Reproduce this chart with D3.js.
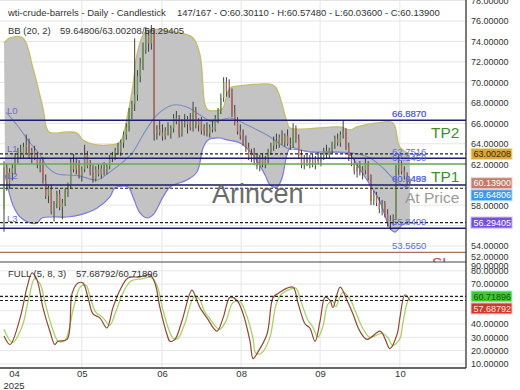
<!DOCTYPE html>
<html>
<head>
<meta charset="utf-8">
<script src="https://cdn.jsdelivr.net/npm/d3@7"></script>
<style>
  body { margin: 0; background: #fff; }
  svg { display: block; font-family: "Liberation Sans", Arial, sans-serif; }
</style>
</head>
<body>
<div id="chart"></div>
<script>
var svgWidth = 520;
var svgHeight = 390;
var plotRight = 466;
var mainBottom = 262;
var oscBottom = 368;

// daily candles, bar 0 .. 146 (147 of 167 slots)
var opens = [57.6,61.7,60.1,61.2,61.6,62.8,63.2,62.9,63.7,63.9,62.9,63.3,62.6,61.9,62.3,60.4,58.9,59.6,57.4,58.1,
  59.1,57.8,58.2,59.3,59.9,62.2,61.5,62.1,60.9,61.5,62.9,61.8,61.2,60.6,61.5,61.0,61.6,61.3,61.8,62.6,
  62.9,63.4,63.2,64.1,64.9,65.6,67.1,67.9,68.8,70.6,71.9,73.2,74.6,73.8,74.9,65.0,65.4,65.1,64.7,65.3,
  65.0,65.5,66.5,66.2,65.0,66.1,65.9,66.4,65.6,67.3,65.8,66.2,65.3,65.6,65.0,65.6,65.4,66.5,67.2,68.5,
  70.0,69.1,68.9,67.0,66.1,65.2,64.8,64.1,63.6,62.7,63.1,62.3,61.8,62.6,62.0,62.4,63.2,63.8,64.3,63.9,
  64.6,64.2,64.8,64.0,63.9,65.5,64.5,62.9,62.0,62.5,62.2,62.6,61.9,62.5,62.3,62.8,63.3,62.9,63.4,63.9,
  64.5,64.1,64.9,65.2,63.7,62.6,62.1,61.3,61.8,61.2,61.4,62.0,60.7,58.4,59.0,58.2,57.6,58.1,57.1,56.3,
  56.5,56.8,61.6,61.9,61.3,60.8,60.3011];
var highs = [62.3,62.0,61.6,62.0,63.1,63.6,63.9,64.1,64.9,64.5,63.6,63.8,63.2,62.6,62.7,61.0,59.9,60.0,58.4,59.4,
  59.5,58.6,59.6,60.2,62.6,63.0,62.5,62.4,61.8,63.9,63.3,62.4,61.9,61.8,62.0,61.9,62.2,62.0,62.9,63.2,
  63.6,64.1,64.4,65.2,66.0,67.5,68.2,74.3,71.2,72.4,73.9,75.4,75.1,75.6,75.3,65.8,66.3,65.9,65.6,66.1,
  65.8,66.9,67.2,66.8,66.4,66.9,66.7,67.0,68.1,67.6,66.5,66.6,65.9,66.1,65.9,66.2,66.8,67.5,68.9,70.5,
  70.5,70.3,69.4,67.8,66.6,65.9,65.4,64.8,64.1,63.5,63.6,63.0,62.9,63.1,62.8,63.5,64.1,64.7,65.0,64.9,
  65.3,65.0,65.4,64.6,66.0,65.8,64.9,63.4,62.9,63.1,62.9,63.0,62.8,63.2,63.0,63.6,63.9,63.6,64.2,64.8,
  65.0,65.2,66.3,65.5,64.1,63.1,62.6,62.1,62.3,61.8,62.6,62.3,61.0,59.4,59.3,58.8,58.5,58.4,57.6,57.0,
  57.1,61.9,62.9,62.3,61.8,61.2,60.5748];
var lows = [55.4,59.4,59.6,60.4,61.0,62.1,62.6,62.5,63.1,62.6,62.1,62.4,61.6,61.2,60.1,58.6,58.2,57.1,56.4,57.7,
  57.5,56.6,57.9,58.8,59.6,61.2,61.0,60.6,60.3,61.2,61.6,60.9,60.2,60.3,60.8,60.6,60.9,61.0,61.5,62.2,
  62.4,62.9,62.8,63.6,64.4,65.2,66.4,67.2,68.2,70.0,71.2,72.8,73.0,73.2,64.3,64.4,64.8,64.3,64.4,64.8,
  64.5,65.1,65.9,64.6,64.7,65.6,65.0,65.3,65.2,65.5,65.2,64.9,64.8,64.7,64.6,65.1,65.2,66.0,66.9,68.1,
  68.6,68.5,66.6,65.8,64.9,64.4,63.8,63.2,62.4,62.2,61.9,61.5,61.3,61.7,61.6,62.1,62.9,63.3,63.5,63.6,
  63.9,63.7,63.8,63.4,63.6,64.1,62.6,61.6,61.5,61.8,61.6,61.7,61.5,62.0,61.8,62.4,62.6,62.5,63.0,63.5,
  63.8,63.7,64.5,63.4,62.3,61.8,61.0,60.7,60.9,60.5,61.0,60.4,58.0,58.0,57.9,57.2,57.0,56.8,55.9,55.6,
  56.0,56.6,60.9,61.0,60.5,60.0,60.036];
var closes = [61.7,60.1,61.2,61.6,62.8,63.2,62.9,63.7,63.9,62.9,63.3,62.6,61.9,62.3,60.4,58.9,59.6,57.4,58.1,59.1,
  57.8,58.2,59.3,59.9,62.2,61.5,62.1,60.9,61.5,62.9,61.8,61.2,60.6,61.5,61.0,61.6,61.3,61.8,62.6,62.9,
  63.4,63.2,64.1,64.9,65.6,67.1,67.9,68.8,70.6,71.9,73.2,74.6,73.8,74.9,65.0,65.4,65.1,64.7,65.3,65.0,
  65.5,66.5,66.2,65.0,66.1,65.9,66.4,65.6,67.3,65.8,66.2,65.3,65.6,65.0,65.6,65.4,66.5,67.2,68.5,70.0,
  69.1,68.9,67.0,66.1,65.2,64.8,64.1,63.6,62.7,63.1,62.3,61.8,62.6,62.0,62.4,63.2,63.8,64.3,63.9,64.6,
  64.2,64.8,64.0,63.9,65.5,64.5,62.9,62.0,62.5,62.2,62.6,61.9,62.5,62.3,62.8,63.3,62.9,63.4,63.9,64.5,
  64.1,64.9,65.2,63.7,62.6,62.1,61.3,61.8,61.2,61.4,62.0,60.7,58.4,59.0,58.2,57.6,58.1,57.1,56.3,56.5,
  56.8,61.6,61.9,61.3,60.8,60.3,60.139];

// Bollinger bands (20, 2), read at sample bars [bar, value]
var bbUpper = [[0,73.85],[2.2,74.34],[6.8,74.34],[10.4,71.41],[14,67.5],[16.2,65.15],[22.7,65.15],[26.3,65.05],
  [28.4,64.37],[33.5,63.88],[38.1,63.88],[41.7,64.17],[44.6,67.01],[46.4,69.74],[47.8,72.68],[50,74.63],
  [51.8,75.12],[63.3,74.83],[68,74.34],[70.5,72.68],[72.3,67.79],[73.4,67.3],[77.7,67.3],[78.8,67.5],
  [81.3,69.45],[84.9,69.65],[96.8,69.74],[98.6,69.06],[101.8,66.13],[102.9,65.54],[120.9,65.64],[124.5,65.35],
  [127,65.64],[134.2,66.03],[139.9,66.03],[142.4,63.68],[146,63.00208]];
var bbMiddle = [[0.7,67.1],[4.7,65.83],[9.4,64.07],[13,62.9],[15.5,61.73],[19.1,61.04],[22.7,60.95],[27.3,60.85],
  [33.5,60.46],[38.1,61.24],[42.8,62.22],[46.4,63.19],[50,64.86],[55,66.81],[60.8,67.79],[65.8,67.59],
  [70.5,66.81],[75.2,66.13],[81.3,66.52],[87.4,65.83],[94.6,64.86],[101.8,63.59],[106.5,63.39],[113.7,63.1],
  [120.9,63.19],[125.5,63.1],[131.7,62.61],[136.3,61.63],[141.4,60.26],[146,59.64806]];
var bbLower = [[0.4,60.95],[3.2,58.01],[5.8,56.84],[9.4,56.25],[11.9,56.25],[13.7,56.74],[18.3,56.84],[22.7,56.84],
  [27.3,57.04],[33.5,57.72],[38.1,58.8],[39.9,59.68],[44.6,59.77],[46.4,58.8],[48.9,57.23],[51.4,56.74],
  [53.6,57.04],[57.2,58.8],[59.7,59.77],[65.8,60.46],[69.4,61.24],[71.6,63.59],[73.4,64.37],[77.7,64.56],
  [80.2,64.37],[84.9,64.07],[89.6,62.9],[93.9,60.95],[95.7,59.97],[98.2,59.77],[100,60.65],[102.9,63.59],
  [106.5,63.39],[110,63.19],[119.8,63.19],[124.5,62.9],[127,61.92],[131.7,59.97],[135.3,58.31],[138.8,55.77],
  [140.6,55.37],[143.2,56.06],[146,56.29405]];

// Full stochastic (5, 8, 3), read at sample bars [bar, value]
var stochK = [[0,31],[2.2,24.6],[5.8,44.6],[8.3,67.7],[10.1,78.5],[11.9,73],[14,52.3],[16.5,34.6],[18.3,24.6],
  [19.4,27],[22.7,28.5],[24.5,63],[26.6,70.8],[28.4,70.8],[30.2,60],[32,47.7],[34.5,44.6],[37,37],[39.2,52.3],
  [41.7,65.4],[44.6,74.6],[48.9,75.4],[52.5,77],[54.3,70.8],[56.1,52.3],[58.6,32.3],[59.7,27],[61.5,28.5],
  [64,42.3],[67.6,65.4],[69.4,57.7],[70.5,52.3],[73,44.6],[76.6,34.6],[78.8,44.6],[81.3,60],[83.8,57.7],
  [86,47.7],[88.5,27],[89.6,14],[91.4,19.2],[94.6,32.3],[96.8,60],[98.6,63],[101.8,67],[104,67.7],[105.8,55.4],
  [108.3,40],[110,37],[111.9,27],[113.7,42.3],[115.5,60],[117.3,57.7],[118.3,52.3],[120.9,67.7],[123.4,57.7],
  [125.5,47.7],[128,34.6],[130.6,28.5],[135.3,34.6],[137,29.2],[138.8,21.5],[141.4,32.3],[142.4,44.6],
  [144.2,62],[146,57.68792]];
var stochD = [[0,36],[3,26],[6.5,38],[9,60],[11,74],[13,70],[15,54],[17.5,36],[19.5,27],[22,28],[25,52],
  [27.5,68],[29.5,69],[31,60],[33,49],[35.5,45],[38,39],[40,48],[42.5,62],[45.5,72],[49.5,74],[53,75],
  [55.2,68],[57,52],[59.6,34],[61,29],[62.5,29],[65,40],[68.5,61],[70.5,58],[72,50],[74,44],[77.5,36],
  [79.8,42],[82.3,56],[84.8,57],[87,48],[89.5,30],[90.6,18],[92.5,18],[95.5,29],[97.8,54],[99.6,62],
  [102.8,66],[105,67],[106.8,57],[109.3,43],[111,38],[112.9,30],[114.7,38],[116.5,55],[118.3,57],[119.3,53],
  [121.9,64],[124.4,59],[126.5,49],[129,37],[131.6,30],[136,33],[138,30],[139.8,24],[142.4,29],[143.4,40],
  [145,56],[146,60.71896]];

// horizontal levels
var levelNames = ["L0", "L1", "L2", "L3"];
var levelValues = [66.29, 62.58, 59.97, 55.74];
var tpLineValue = 62.02;
var slLineValue = 53.39;
var tagTexts = ["66.8870", "66.5870", "62.7516", "62.1450", "60.1499", "60.0483", "55.8409", "53.5650"];
var tagValues = [66.29, 66.29, 62.58, 62.02, 59.97, 59.97, 55.74, 53.39];

// ticks (labels hidden under the value tags are left out)
var priceGrid = [52, 54, 56, 58, 60, 62, 64, 66, 68, 70, 72, 74, 76, 78];
var priceTicks = [52, 54, 58, 62, 64, 66, 68, 70, 72, 74, 76, 78];
var oscGrid = [10, 20, 30, 40, 50, 60, 70, 80, 90];
var oscTicks = [10, 20, 30, 40, 70, 80, 90];
var monthTicks = [3.6, 28, 56.8, 85.3, 113.7, 142.4];
var monthLabels = ["04", "05", "06", "08", "09", "10"];

var bbNow = [59.64806, 63.00208, 56.29405];
var stochNow = [57.68792, 60.71896];

var svg = d3.select("#chart").append("svg")
  .attr("width", svgWidth)
  .attr("height", svgHeight);

var x = d3.scaleLinear().domain([0, 166]).range([4, 465.5]);
var y = d3.scaleLinear().domain([52.44, 78.05]).range([mainBottom, 0]);
var yOsc = d3.scaleLinear().domain([6.92, 86.62]).range([oscBottom, mainBottom]);

var defs = svg.append("defs");
defs.append("clipPath").attr("id", "clipMain")
  .append("rect").attr("x", 0).attr("y", 0).attr("width", plotRight).attr("height", mainBottom);
defs.append("clipPath").attr("id", "clipOsc")
  .append("rect").attr("x", 0).attr("y", mainBottom).attr("width", plotRight).attr("height", oscBottom - mainBottom);

var mainG = svg.append("g").attr("clip-path", "url(#clipMain)");
var oscG = svg.append("g").attr("clip-path", "url(#clipOsc)");

// grid
mainG.selectAll(".hgrid").data(priceGrid).enter().append("line")
  .attr("x1", 0).attr("x2", plotRight)
  .attr("y1", d => y(d)).attr("y2", d => y(d))
  .attr("stroke", "#e6e6e6");
oscG.selectAll(".hgrid").data(oscGrid).enter().append("line")
  .attr("x1", 0).attr("x2", plotRight)
  .attr("y1", d => yOsc(d)).attr("y2", d => yOsc(d))
  .attr("stroke", "#e6e6e6");
[mainG, oscG].forEach(function(g) {
  g.selectAll(".vgrid").data(monthTicks.slice(1)).enter().append("line")
    .attr("x1", d => x(d)).attr("x2", d => x(d))
    .attr("y1", 0).attr("y2", oscBottom)
    .attr("stroke", "#e6e6e6");
});

// Bollinger band
var bandLine = d3.line()
  .x(d => x(d[0]))
  .y(d => y(d[1]))
  .curve(d3.curveCatmullRom);
var fillPath = bandLine(bbUpper) + bandLine(bbLower.slice().reverse()).replace(/^M/, "L") + "Z";
mainG.append("path").attr("d", fillPath).attr("fill", "#c3c3c3");
mainG.append("path").attr("d", bandLine(bbUpper)).attr("fill", "none")
  .attr("stroke", "#c4bc6a").attr("stroke-width", 1.3);
mainG.append("path").attr("d", bandLine(bbLower)).attr("fill", "none")
  .attr("stroke", "#7d78e0").attr("stroke-width", 1.2);
mainG.append("path").attr("d", bandLine(bbMiddle)).attr("fill", "none")
  .attr("stroke", "#7f8dc4").attr("stroke-width", 1.1);

// candles
var bars = d3.range(closes.length);
mainG.selectAll(".wick").data(bars).enter().append("line")
  .attr("x1", i => x(i)).attr("x2", i => x(i))
  .attr("y1", i => y(highs[i])).attr("y2", i => y(lows[i]))
  .attr("stroke", "#404040").attr("stroke-width", 1);
mainG.selectAll(".body").data(bars).enter().append("rect")
  .attr("x", i => x(i) - 0.7)
  .attr("width", 1.4)
  .attr("y", i => y(Math.max(opens[i], closes[i])))
  .attr("height", i => Math.max(1, Math.abs(y(opens[i]) - y(closes[i]))))
  .attr("fill", i => closes[i] >= opens[i] ? "#6f9a52" : "#b86660");

// level lines
mainG.selectAll(".level").data(levelValues).enter().append("line")
  .attr("x1", 0).attr("x2", plotRight)
  .attr("y1", d => y(d)).attr("y2", d => y(d))
  .attr("stroke", "#1c1c70").attr("stroke-width", 1.5);
mainG.append("line")
  .attr("x1", 0).attr("x2", plotRight)
  .attr("y1", y(tpLineValue)).attr("y2", y(tpLineValue))
  .attr("stroke", "#6aa85a").attr("stroke-width", 1.3);
mainG.append("line")
  .attr("x1", 0).attr("x2", plotRight)
  .attr("y1", y(slLineValue)).attr("y2", y(slLineValue))
  .attr("stroke", "#a8705f").attr("stroke-width", 1.3);
mainG.selectAll(".bbnow").data(bbNow).enter().append("line")
  .attr("x1", 0).attr("x2", plotRight)
  .attr("y1", d => y(d)).attr("y2", d => y(d))
  .attr("stroke", "#222").attr("stroke-width", 1.2)
  .attr("stroke-dasharray", "3,2");

mainG.selectAll(".lname").data(levelValues).enter().append("text")
  .attr("x", 7).attr("y", d => y(d) - 6)
  .attr("font-size", "9.5px").attr("fill", "#6a6ad4")
  .text((d, i) => levelNames[i]);
mainG.selectAll(".ltag").data(tagValues).enter().append("text")
  .attr("x", 392).attr("y", d => y(d) - 3)
  .attr("font-size", "9.5px").attr("fill", "#5a6ae0")
  .text((d, i) => tagTexts[i]);

mainG.append("text").attr("x", 431).attr("y", 138)
  .attr("font-size", "15.5px").attr("fill", "#3d8f2a").text("TP2");
mainG.append("text").attr("x", 431).attr("y", 182)
  .attr("font-size", "15.5px").attr("fill", "#3d8f2a").text("TP1");
mainG.append("text").attr("x", 432).attr("y", 268)
  .attr("font-size", "15.5px").attr("fill", "#c0504d").text("SL");
mainG.append("text").attr("x", 405).attr("y", 203)
  .attr("font-size", "15.5px").attr("fill", "#9a9a9a").text("At Price");
mainG.append("text").attr("x", 212).attr("y", 203)
  .attr("font-size", "27px").attr("fill", "#5c5c5c").attr("opacity", 0.9).text("Arincen");

// stochastic
var oscLine = d3.line()
  .x(d => x(d[0]))
  .y(d => yOsc(d[1]))
  .curve(d3.curveCatmullRom);
oscG.append("path").attr("d", oscLine(stochD)).attr("fill", "none")
  .attr("stroke", "#a9d06a").attr("stroke-width", 1.3);
oscG.append("path").attr("d", oscLine(stochK)).attr("fill", "none")
  .attr("stroke", "#8e4a36").attr("stroke-width", 1.2);
oscG.selectAll(".stnow").data(stochNow).enter().append("line")
  .attr("x1", 0).attr("x2", plotRight)
  .attr("y1", d => yOsc(d)).attr("y2", d => yOsc(d))
  .attr("stroke", "#222").attr("stroke-width", 1.2)
  .attr("stroke-dasharray", "3,2");

// panel frame
svg.append("line").attr("x1", 0).attr("x2", plotRight).attr("y1", mainBottom).attr("y2", mainBottom)
  .attr("stroke", "#444").attr("stroke-width", 1);
svg.append("line").attr("x1", 0).attr("x2", plotRight).attr("y1", oscBottom).attr("y2", oscBottom)
  .attr("stroke", "#333").attr("stroke-width", 1.3);
svg.append("line").attr("x1", plotRight).attr("x2", plotRight).attr("y1", 0).attr("y2", oscBottom)
  .attr("stroke", "#333").attr("stroke-width", 1.3);

// right axes
var priceAxis = svg.append("g")
  .attr("transform", `translate(${plotRight}, 0)`)
  .call(d3.axisRight(y).tickValues(priceTicks).tickFormat(d3.format(".5f")).tickSize(0).tickPadding(5));
priceAxis.selectAll(".tick").filter(d => d === 52).attr("transform", "translate(0,257.5)");
priceAxis.selectAll(".tick").filter(d => d === 78).attr("transform", "translate(0,1.5)");
var oscAxis = svg.append("g")
  .attr("transform", `translate(${plotRight}, 0)`)
  .call(d3.axisRight(yOsc).tickValues(oscTicks).tickFormat(d3.format(".5f")).tickSize(0).tickPadding(5));
oscAxis.selectAll(".tick").filter(d => d === 90).attr("transform", "translate(0,266.5)");
[priceAxis, oscAxis].forEach(function(a) {
  a.select(".domain").remove();
  a.selectAll("text").attr("font-size", "9px").attr("fill", "#333")
    .attr("font-family", "Liberation Sans, Arial, sans-serif");
});

// bottom axis
var timeAxis = svg.append("g")
  .attr("transform", `translate(0, ${oscBottom})`)
  .call(d3.axisBottom(x).tickValues(monthTicks).tickFormat((d, i) => monthLabels[i]).tickSize(0).tickPadding(2));
timeAxis.select(".domain").remove();
timeAxis.selectAll("text").attr("font-size", "9.5px").attr("fill", "#333")
  .attr("font-family", "Liberation Sans, Arial, sans-serif");
svg.append("text").attr("x", x(monthTicks[0])).attr("y", 388.5)
  .attr("text-anchor", "middle").attr("font-size", "9.5px").attr("fill", "#333").text("2025");

// value tags on the axis
function drawTags(tags, scale) {
  var prev = -100;
  tags.forEach(function(t) {
    var cy = Math.max(scale(t.v), prev + 12);
    prev = cy;
    svg.append("rect")
      .attr("x", 471).attr("y", cy - 5.5).attr("width", 41).attr("height", 11)
      .attr("fill", t.bg).attr("stroke", t.edge).attr("stroke-width", 1);
    svg.append("text")
      .attr("x", 473.5).attr("y", cy + 3.2)
      .attr("font-size", "9px").attr("fill", t.fg)
      .text(d3.format(".5f")(t.v));
  });
}
drawTags([
  {v: bbNow[1], bg: "#d6a83c", fg: "#3c2a00", edge: "#f0dc9a"},
  {v: closes[closes.length - 1], bg: "#c47b68", fg: "#ffffff", edge: "#f4cfd0"},
  {v: bbNow[0], bg: "#3a98ea", fg: "#ffffff", edge: "#a8dcf8"},
  {v: bbNow[2], bg: "#7550dc", fg: "#ffffff", edge: "#c4b4f2"}
], y);
drawTags([
  {v: stochNow[1], bg: "#3fc92c", fg: "#145214", edge: "#b0f0f0"},
  {v: stochNow[0], bg: "#cf3a2c", fg: "#ffe4e0", edge: "#f6c0c8"}
], yOsc);

// header texts
svg.append("text").attr("x", 8).attr("y", 16).attr("font-size", "9.5px").attr("fill", "#333")
  .text("wti-crude-barrels - Daily - Candlestick");
svg.append("text").attr("x", 177).attr("y", 16).attr("font-size", "9.5px").attr("fill", "#333")
  .text("147/167 - O:60.30110 - H:60.57480 - L:60.03600 - C:60.13900");
svg.append("text").attr("x", 8).attr("y", 33.5).attr("font-size", "9.5px").attr("fill", "#333")
  .text("BB (20, 2)");
svg.append("text").attr("x", 60).attr("y", 33.5).attr("font-size", "9.5px").attr("fill", "#333")
  .text(bbNow.map(d3.format(".5f")).join("/"));
svg.append("text").attr("x", 8).attr("y", 276.5).attr("font-size", "9.5px").attr("fill", "#333")
  .text("FULL (5, 8, 3)");
svg.append("text").attr("x", 76).attr("y", 276.5).attr("font-size", "9.5px").attr("fill", "#333")
  .text(stochNow.map(d3.format(".5f")).join("/"));
</script>
</body>
</html>
